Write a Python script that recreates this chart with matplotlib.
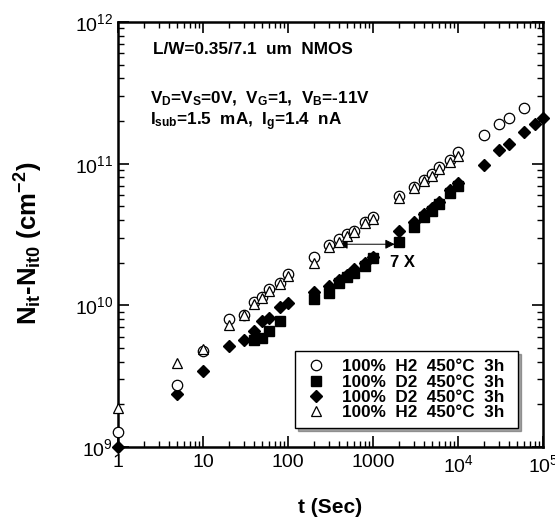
import matplotlib
matplotlib.use("Agg")
import matplotlib.pyplot as plt
from matplotlib.ticker import LogLocator, FixedLocator, FixedFormatter, NullFormatter

plt.rcParams['font.family'] = ['Liberation Sans', 'DejaVu Sans']
plt.rcParams['mathtext.fontset'] = 'custom'
plt.rcParams['mathtext.rm'] = 'Liberation Sans'
plt.rcParams['mathtext.bf'] = 'Liberation Sans:bold'
plt.rcParams['mathtext.it'] = 'Liberation Sans:italic'

# stress time (s) and interface trap increase (cm^-2)
t_h2_circ = [1, 5, 10, 20, 30, 40, 50, 60, 80, 100, 200, 300, 400, 500, 600, 800, 1000,
             2000, 3000, 4000, 5000, 6000, 8000, 10000, 20000, 30000, 40000, 60000]
n_h2_circ = [1.28e9, 2.75e9, 4.8e9, 8.0e9, 8.6e9, 1.05e10, 1.15e10, 1.3e10, 1.43e10, 1.66e10,
             2.2e10, 2.66e10, 2.94e10, 3.2e10, 3.35e10, 3.9e10, 4.2e10,
             5.9e10, 6.9e10, 7.7e10, 8.4e10, 9.5e10, 1.07e11, 1.2e11, 1.6e11, 1.9e11, 2.1e11, 2.46e11]

t_d2_sq = [40, 50, 60, 80, 200, 300, 400, 500, 600, 800, 1000,
           2000, 3000, 4000, 5000, 6000, 8000, 10000]
n_d2_sq = [5.7e9, 5.9e9, 6.6e9, 7.7e9, 1.1e10, 1.23e10, 1.43e10, 1.58e10, 1.7e10, 1.9e10, 2.15e10,
           2.8e10, 3.6e10, 4.2e10, 4.6e10, 5.2e10, 6.2e10, 7.0e10]

t_d2_dia = [1, 5, 10, 20, 30, 40, 50, 60, 80, 100, 200, 300, 400, 500, 600, 800, 1000,
            2000, 3000, 4000, 5000, 6000, 8000, 10000, 20000, 30000, 40000, 60000, 80000, 100000]
n_d2_dia = [1.0e9, 2.37e9, 3.45e9, 5.2e9, 5.7e9, 6.6e9, 7.7e9, 8.2e9, 9.7e9, 1.04e10,
            1.24e10, 1.36e10, 1.52e10, 1.65e10, 1.8e10, 2.0e10, 2.2e10,
            3.35e10, 3.9e10, 4.4e10, 4.9e10, 5.4e10, 6.5e10, 7.3e10,
            9.8e10, 1.24e11, 1.38e11, 1.68e11, 1.9e11, 2.1e11]

t_h2_tri = [1, 5, 10, 20, 30, 40, 50, 60, 80, 100, 200, 300, 400, 500, 600, 800, 1000,
            2000, 3000, 4000, 5000, 6000, 8000, 10000]
n_h2_tri = [1.9e9, 3.9e9, 4.9e9, 7.3e9, 8.5e9, 1.03e10, 1.12e10, 1.26e10, 1.42e10, 1.6e10,
            2.0e10, 2.6e10, 2.8e10, 3.1e10, 3.3e10, 3.8e10, 4.1e10,
            5.7e10, 6.7e10, 7.5e10, 8.2e10, 9.2e10, 1.02e11, 1.14e11]

labels = ['100%  H2  450°C  3h', '100%  D2  450°C  3h',
          '100%  D2  450°C  3h', '100%  H2  450°C  3h']

x_ticks = [1, 10, 100, 1000, 1e4, 1e5]
x_ticklabels = ['1', '10', '100', '1000', r'$10^{4}$', r'$10^{5}$']
y_ticks = [1e9, 1e10, 1e11, 1e12]
y_ticklabels = [r'$10^{9}$', r'$10^{10}$', r'$10^{11}$', r'$10^{12}$']

fig = plt.figure(figsize=(5.55, 5.19), dpi=100)
ax = fig.add_axes([0.2126, 0.1387, 0.7658, 0.8189])
ax.set_xscale('log')
ax.set_yscale('log')
ax.set_xlim(1, 1e5)
ax.set_ylim(1e9, 1e12)

ms = 7.5
ax.plot(t_h2_circ, n_h2_circ, 'o', ms=ms, mfc='white', mec='black', mew=0.9,
        label=labels[0], clip_on=False, zorder=4)
ax.plot(t_d2_sq, n_d2_sq, 's', ms=ms, mfc='black', mec='black',
        label=labels[1], clip_on=False, zorder=3)
ax.plot(t_d2_dia, n_d2_dia, 'D', ms=6, mfc='black', mec='black',
        label=labels[2], clip_on=False, zorder=3)
ax.plot(t_h2_tri, n_h2_tri, '^', ms=ms, mfc='white', mec='black', mew=0.9,
        label=labels[3], clip_on=False, zorder=4)

# 7X shift arrow
ax.annotate('', xy=(1800, 2.7e10), xytext=(390, 2.7e10),
            arrowprops=dict(arrowstyle='<|-|>', color='black', lw=0.7,
                            mutation_scale=14, shrinkA=0, shrinkB=0))
ax.text(2200, 2.0e10, '7 X', fontsize=12, fontweight='bold', ha='center', va='center')

ax.text(0.082, 0.935, 'L/W=0.35/7.1  um  NMOS', transform=ax.transAxes,
        fontsize=12.3, fontweight='bold', va='center')
ax.text(0.075, 0.82, r'$\mathbf{V_D}$=$\mathbf{V_S}$=0V,  $\mathbf{V_G}$=1,  $\mathbf{V_B}$=-11V',
        transform=ax.transAxes, fontsize=12.3, fontweight='bold', va='center')
ax.text(0.075, 0.765, r'$\mathbf{I_{sub}}$=1.5  mA,  $\mathbf{I_g}$=1.4  nA',
        transform=ax.transAxes, fontsize=12.3, fontweight='bold', va='center')

ax.xaxis.set_major_locator(FixedLocator(x_ticks))
ax.xaxis.set_major_formatter(FixedFormatter(x_ticklabels))
ax.xaxis.set_minor_locator(LogLocator(base=10, subs=range(2, 10), numticks=20))
ax.xaxis.set_minor_formatter(NullFormatter())
ax.yaxis.set_major_locator(FixedLocator(y_ticks))
ax.yaxis.set_major_formatter(FixedFormatter(y_ticklabels))
ax.yaxis.set_minor_locator(LogLocator(base=10, subs=range(2, 10), numticks=20))
ax.yaxis.set_minor_formatter(NullFormatter())

ax.tick_params(which='both', direction='in', top=True, right=True, labelsize=14)
ax.tick_params(which='major', length=8, width=1.2)
ax.tick_params(which='minor', length=4, width=1)
ax.tick_params(axis='x', pad=5)
for s in ax.spines.values():
    s.set_linewidth(1.8)

ax.set_xlabel('t (Sec)', fontsize=15, fontweight='bold', labelpad=16)
ax.set_ylabel(r'$\mathbf{N_{it}}$-$\mathbf{N_{it0}}$ (cm$^{\mathbf{-2}}$)', fontsize=18.5,
              fontweight='bold')
ax.yaxis.set_label_coords(-0.172, 0.48)

leg = ax.legend(loc='lower left', bbox_to_anchor=(0.416, 0.045, 0.525, 0.19), mode='expand',
                borderaxespad=0, frameon=True, fancybox=False, shadow=True, edgecolor='black',
                prop={'weight': 'bold', 'size': 12.3}, handletextpad=0.7,
                labelspacing=0.02, borderpad=0.45, handlelength=1.6)
leg.get_frame().set_linewidth(1.0)

fig.savefig('out.png', dpi=100)
